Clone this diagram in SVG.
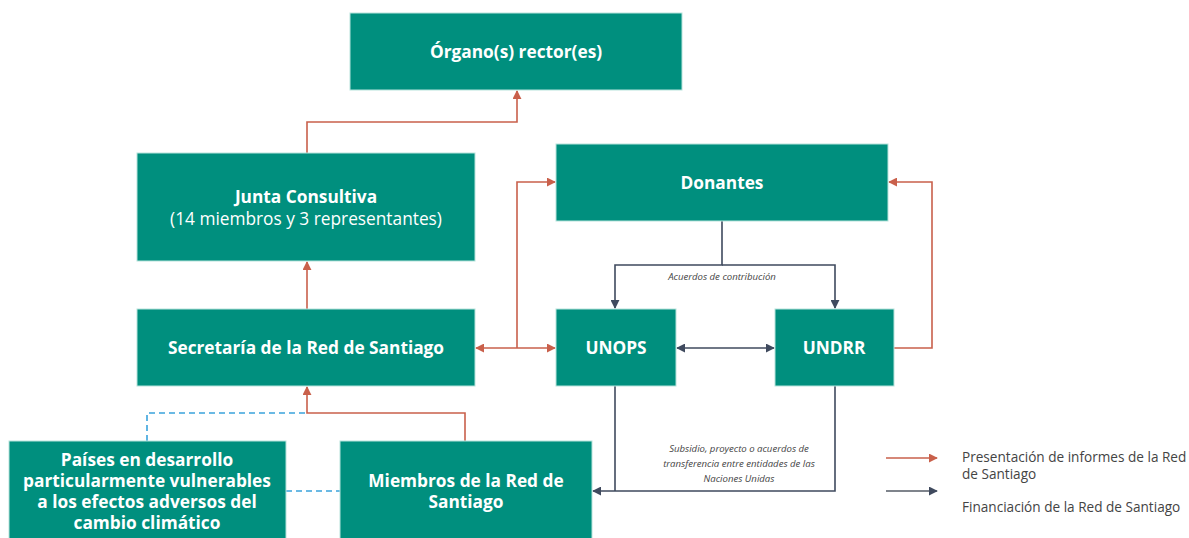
<svg xmlns="http://www.w3.org/2000/svg" width="1189" height="538" viewBox="0 0 1189 538">
<defs>
<style>
.box{fill:#008f7e;stroke:#b7e3dc;stroke-width:1}
.t{font-family:"Open Sans","Noto Sans",sans-serif;fill:#ffffff;text-anchor:middle;font-size:17.3px}
.b{font-weight:bold}
.red{fill:none;stroke:#c9604b;stroke-width:1.6}
.dark{fill:none;stroke:#3f4a5e;stroke-width:1.6}
.blue{fill:none;stroke:#3aa3dc;stroke-width:1.6;stroke-dasharray:6 4}
.lbl{font-family:"Open Sans","Noto Sans",sans-serif;font-style:italic;font-size:9.6px;fill:#444;text-anchor:middle}
.leg{font-family:"Open Sans","Noto Sans",sans-serif;font-size:13.6px;fill:#444}
</style>
<marker id="ar" viewBox="0 0 10 10" refX="9" refY="5" markerWidth="9" markerHeight="9" markerUnits="userSpaceOnUse" orient="auto-start-reverse">
<path d="M0,0 L10,5 L0,10 z" fill="#c9604b"/>
</marker>
<marker id="ad" viewBox="0 0 10 10" refX="9" refY="5" markerWidth="9" markerHeight="9" markerUnits="userSpaceOnUse" orient="auto-start-reverse">
<path d="M0,0 L10,5 L0,10 z" fill="#3f4a5e"/>
</marker>
</defs>
<rect width="1189" height="538" fill="#ffffff"/>

<g id="connectors">
<path class="red" d="M307,153 V122 H517 V91" marker-end="url(#ar)"/>
<path class="red" d="M307,309 V262" marker-end="url(#ar)"/>
<path class="blue" d="M147,441 V413 H307"/>
<path class="red" d="M465,441 V413 H307 V387" marker-end="url(#ar)"/>
<path class="blue" d="M286,491 H340"/>
<path class="red" d="M517,348 H476" marker-end="url(#ar)"/>
<path class="red" d="M517,348 H555" marker-end="url(#ar)"/>
<path class="red" d="M517,348 V182 H555" marker-end="url(#ar)"/>
<path class="red" d="M894,348 H932 V182 H889" marker-end="url(#ar)"/>
<path class="dark" d="M722,221 V265 H615 V308" marker-end="url(#ad)"/>
<path class="dark" d="M722,265 H835 V308" marker-end="url(#ad)"/>
<path class="dark" d="M677,348 H774" marker-start="url(#ad)" marker-end="url(#ad)"/>
<path class="dark" d="M615,386 V491"/>
<path class="dark" d="M835,386 V491 H593" marker-end="url(#ad)"/>
<text class="lbl" x="722" y="280">Acuerdos de contribución</text>
<text class="lbl" x="739" y="452">Subsidio, proyecto o acuerdos de</text>
<text class="lbl" x="739" y="467">transferencia entre entidades de las</text>
<text class="lbl" x="739" y="482">Naciones Unidas</text>
</g>

<g id="organo">
<rect class="box" x="350" y="13" width="332" height="77"/>
<text class="t b" x="516" y="58">Órgano(s) rector(es)</text>
</g>
<g id="junta">
<rect class="box" x="137" y="153" width="338" height="108"/>
<text class="t b" x="306" y="203">Junta Consultiva</text>
<text class="t" x="306" y="225">(14 miembros y 3 representantes)</text>
</g>
<g id="secretaria">
<rect class="box" x="137" y="309" width="338" height="77"/>
<text class="t b" x="306" y="354">Secretaría de la Red de Santiago</text>
</g>
<g id="donantes">
<rect class="box" x="556" y="144" width="332" height="77"/>
<text class="t b" x="722" y="189">Donantes</text>
</g>
<g id="unops">
<rect class="box" x="556" y="309" width="120" height="77"/>
<text class="t b" x="616" y="354">UNOPS</text>
</g>
<g id="undrr">
<rect class="box" x="775" y="309" width="119" height="77"/>
<text class="t b" x="834" y="354">UNDRR</text>
</g>
<g id="paises">
<rect class="box" x="9" y="441" width="277" height="110"/>
<text class="t b" x="147" y="466">Países en desarrollo</text>
<text class="t b" x="147" y="487">particularmente vulnerables</text>
<text class="t b" x="147" y="508">a los efectos adversos del</text>
<text class="t b" x="147" y="529">cambio climático</text>
</g>
<g id="miembros">
<rect class="box" x="340" y="441" width="252" height="110"/>
<text class="t b" x="466" y="487">Miembros de la Red de</text>
<text class="t b" x="466" y="508">Santiago</text>
</g>

<g id="legend">
<path class="red" d="M886,458 H937" marker-end="url(#ar)"/>
<path class="dark" d="M886,491 H937" style="stroke:#555b66" marker-end="url(#ad)"/>
<text class="leg" x="962" y="462">Presentación de informes de la Red</text>
<text class="leg" x="962" y="479">de Santiago</text>
<text class="leg" x="962" y="512">Financiación de la Red de Santiago</text>
</g>
</svg>
